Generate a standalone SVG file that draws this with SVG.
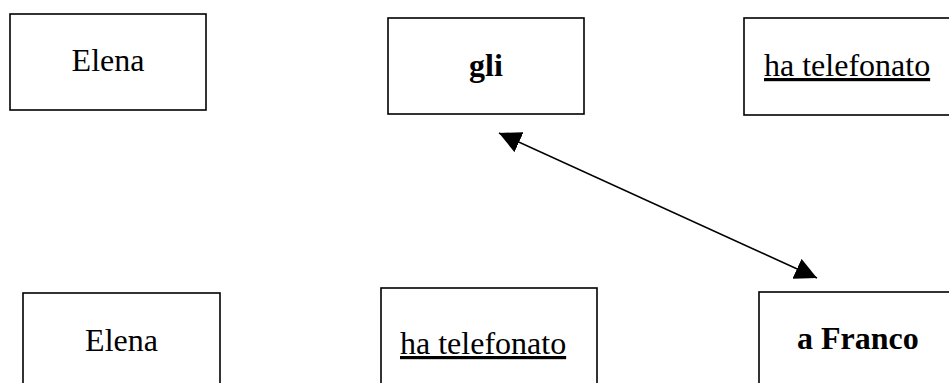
<svg xmlns="http://www.w3.org/2000/svg" width="949" height="383" viewBox="0 0 949 383">
<style>
.box{fill:#fff;stroke:#000;stroke-width:1.6}
.t{font-family:"Liberation Serif","Times New Roman",serif;font-size:32px;fill:#000}
.b{font-weight:bold}
.u{text-decoration:underline}
.c{stroke:#000;stroke-width:1.6;fill:none}
</style>
<defs>
<marker id="ah" markerUnits="userSpaceOnUse" markerWidth="22" markerHeight="22" viewBox="0 0 20 20" refX="20" refY="10" orient="auto-start-reverse">
<path d="M0,0 L20,10 L0,20 Z" fill="#000"/>
</marker>
</defs>
<rect width="949" height="383" fill="#fff"/>
<g id="n1"><rect class="box" x="10" y="14" width="196" height="96"/><text class="t" x="108" y="71" text-anchor="middle">Elena</text></g>
<g id="n2"><rect class="box" x="388" y="18" width="196" height="96"/><text class="t b" x="486" y="76" text-anchor="middle">gli</text></g>
<g id="n3"><rect class="box" x="744" y="18" width="220" height="97"/><text class="t u" x="764" y="76">ha telefonato</text></g>
<g id="n4"><rect class="box" x="23" y="293" width="197" height="110"/><text class="t" x="121.5" y="351" text-anchor="middle">Elena</text></g>
<g id="n5"><rect class="box" x="381" y="288" width="216" height="110"/><text class="t u" x="400" y="354">ha telefonato</text></g>
<g id="n6"><rect class="box" x="759" y="292" width="220" height="110"/><text class="t b" x="797" y="349">a Franco</text></g>
<g id="connectors">
<line class="c" x1="499" y1="133" x2="817" y2="278" marker-start="url(#ah)" marker-end="url(#ah)"/>
</g>
</svg>
